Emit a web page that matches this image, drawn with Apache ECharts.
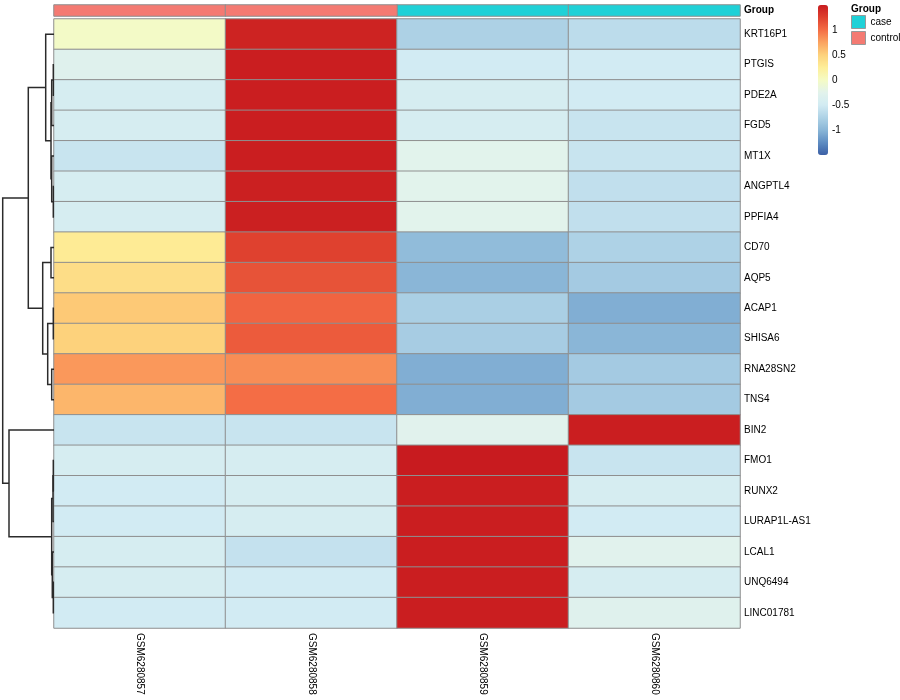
<!DOCTYPE html>
<html><head><meta charset="utf-8">
<script src="https://cdn.jsdelivr.net/npm/echarts@6/dist/echarts.min.js"></script>
<style>html,body{margin:0;padding:0;background:#fff}#c{width:900px;height:700px}</style>
</head><body><div id="c"></div>
<script>
const samples = ['GSM6280857','GSM6280858','GSM6280859','GSM6280860'];
const sampleGroups = ['control','control','case','case'];
const genes = ['KRT16P1','PTGIS','PDE2A','FGD5','MT1X','ANGPTL4','PPFIA4','CD70','AQP5','ACAP1','SHISA6','RNA28SN2','TNS4','BIN2','FMO1','RUNX2','LURAP1L-AS1','LCAL1','UNQ6494','LINC01781'];
const GSM6280857 = [-0.02,-0.3,-0.43,-0.43,-0.57,-0.43,-0.43,0.28,0.4,0.55,0.5,0.8,0.65,-0.57,-0.43,-0.5,-0.5,-0.43,-0.43,-0.5];
const GSM6280858 = [1.45,1.48,1.48,1.48,1.48,1.47,1.47,1.25,1.15,1.05,1.1,0.85,1.0,-0.57,-0.43,-0.43,-0.43,-0.6,-0.5,-0.5];
const GSM6280859 = [-0.76,-0.5,-0.43,-0.43,-0.25,-0.25,-0.25,-0.95,-1.0,-0.78,-0.8,-1.05,-1.05,-0.27,1.5,1.48,1.48,1.48,1.48,1.48];
const GSM6280860 = [-0.65,-0.5,-0.5,-0.57,-0.57,-0.62,-0.62,-0.75,-0.82,-1.05,-1.0,-0.82,-0.82,1.48,-0.57,-0.43,-0.5,-0.27,-0.43,-0.3];
const legendTicks = [-1.5,-1,-0.5,0,0.5,1,1.5];
// row dendrogram merges: [node, child1, child2, height]
const dendroMerges = [
 ['n1','PTGIS','PDE2A',0.07],
 ['n2','n1','FGD5',0.23],
 ['n3','ANGPTL4','PPFIA4',0.07],
 ['n4','MT1X','n3',0.23],
 ['n5','n2','n4',0.3],
 ['n6','KRT16P1','n5',0.83],
 ['m1','ACAP1','SHISA6',0.07],
 ['m2','RNA28SN2','TNS4',0.23],
 ['m3','m1','m2',0.63],
 ['m4','CD70','AQP5',0.3],
 ['m5','m4','m3',1.13],
 ['A','n6','m5',2.57],
 ['p1','FMO1','RUNX2',0.07],
 ['p2','p1','LURAP1L-AS1',0.1],
 ['p3','UNQ6494','LINC01781',0.07],
 ['p4','LCAL1','p3',0.17],
 ['p5','p2','p4',0.23],
 ['B','BIN2','p5',4.5],
 ['root','A','B',5.13]
];

const FONT = 'Liberation Sans, Arial, sans-serif';
const columns = [GSM6280857, GSM6280858, GSM6280859, GSM6280860];
const heatData = [];
columns.forEach((col, ci) => col.forEach((v, ri) => heatData.push([ci, ri, v])));

const pos = {};
genes.forEach((g, i) => pos[g] = {y: i, h: 0});
const dendroLines = [];
dendroMerges.forEach(([n, a, b, h]) => {
  const A = pos[a], B = pos[b];
  dendroLines.push({coords: [[A.h, A.y], [h, A.y], [h, B.y], [B.h, B.y]]});
  pos[n] = {y: (A.y + B.y) / 2, h: h};
});

const groupColors = {control: '#F47A72', case: '#1FD1D7'};
const annoSeries = ['case','control'].map(g => ({
  name: g, type: 'heatmap', xAxisIndex: 1, yAxisIndex: 1,
  itemStyle: {color: groupColors[g], borderColor: '#8f8f8f', borderWidth: 1},
  data: sampleGroups.map((s, i) => s === g ? [i, 0, 1] : null).filter(d => d)
}));

const chart = echarts.init(document.getElementById('c'), null, {renderer: 'canvas'});
chart.setOption({
  animation: false,
  textStyle: {fontFamily: FONT},
  title: {text: 'Group', left: 851, top: 4, textStyle: {fontSize: 10, fontWeight: 'bold', color: '#000', fontFamily: FONT}, padding: 0},
  legend: {
    data: ['case','control'], orient: 'vertical', left: 851, top: 15, padding: 0,
    itemWidth: 14, itemHeight: 13, itemGap: 2, icon: 'rect',
    itemStyle: {borderColor: '#999', borderWidth: 1},
    textStyle: {fontSize: 10, color: '#000', fontFamily: FONT}, selectedMode: false
  },
  grid: [
    {left: 54, top: 19, width: 686, height: 609},
    {left: 54, top: 5, width: 686, height: 11},
    {left: 0, top: 19, width: 54, height: 609},
    {left: 818, top: 5, width: 10, height: 150}
  ],
  xAxis: [
    {gridIndex: 0, type: 'category', data: samples, position: 'bottom',
     axisLine: {show: false}, axisTick: {show: false}, splitLine: {show: false},
     axisLabel: {rotate: -90, fontSize: 10, color: '#000', margin: 5, fontFamily: FONT}},
    {gridIndex: 1, type: 'category', data: samples, show: false},
    {gridIndex: 2, type: 'value', min: 0, max: 5.4, inverse: true, show: false},
    {gridIndex: 3, type: 'value', show: false}
  ],
  yAxis: [
    {gridIndex: 0, type: 'category', data: genes, inverse: true, position: 'right',
     axisLine: {show: false}, axisTick: {show: false}, splitLine: {show: false},
     axisLabel: {fontSize: 10, color: '#000', margin: 4, fontFamily: FONT}},
    {gridIndex: 1, type: 'category', data: ['Group'], position: 'right',
     axisLine: {show: false}, axisTick: {show: false},
     axisLabel: {fontSize: 10, fontWeight: 'bold', color: '#000', margin: 4, fontFamily: FONT}},
    {gridIndex: 2, type: 'value', min: -0.5, max: 19.5, inverse: true, show: false},
    {gridIndex: 3, type: 'value', min: -1.5, max: 1.5, interval: 0.5, position: 'right',
     axisLine: {show: false}, axisTick: {show: false}, splitLine: {show: false},
     axisLabel: {fontSize: 10, color: '#000', margin: 4, fontFamily: FONT,
       formatter: v => (legendTicks.indexOf(v) >= 0 && Math.abs(v) < 1.2) ? String(v) : ''}}
  ],
  visualMap: {
    type: 'continuous', seriesIndex: 0, min: -1.5, max: 1.5,
    left: 818, top: 5, itemWidth: 10, itemHeight: 150, padding: 0,
    calculable: false, hoverLink: false, text: null, showLabel: false,
    inRange: {color: ['#3C5FA6','#5E8DC2','#8AB6D7','#AED2E6','#D2EBF3','#E2F3EC','#F5FBC4','#FEEE98','#FDD27C','#FBA360','#F46D45','#DF412F','#C81B1F']}
  },
  series: [
    {type: 'heatmap', xAxisIndex: 0, yAxisIndex: 0, data: heatData,
     itemStyle: {borderColor: '#8f8f8f', borderWidth: 1}, emphasis: {disabled: true}},
    ...annoSeries,
    {type: 'lines', coordinateSystem: 'cartesian2d', xAxisIndex: 2, yAxisIndex: 2, polyline: true,
     lineStyle: {color: '#2b2b2b', width: 1.5, opacity: 1}, data: dendroLines, silent: true}
  ]
});
</script></body></html>
